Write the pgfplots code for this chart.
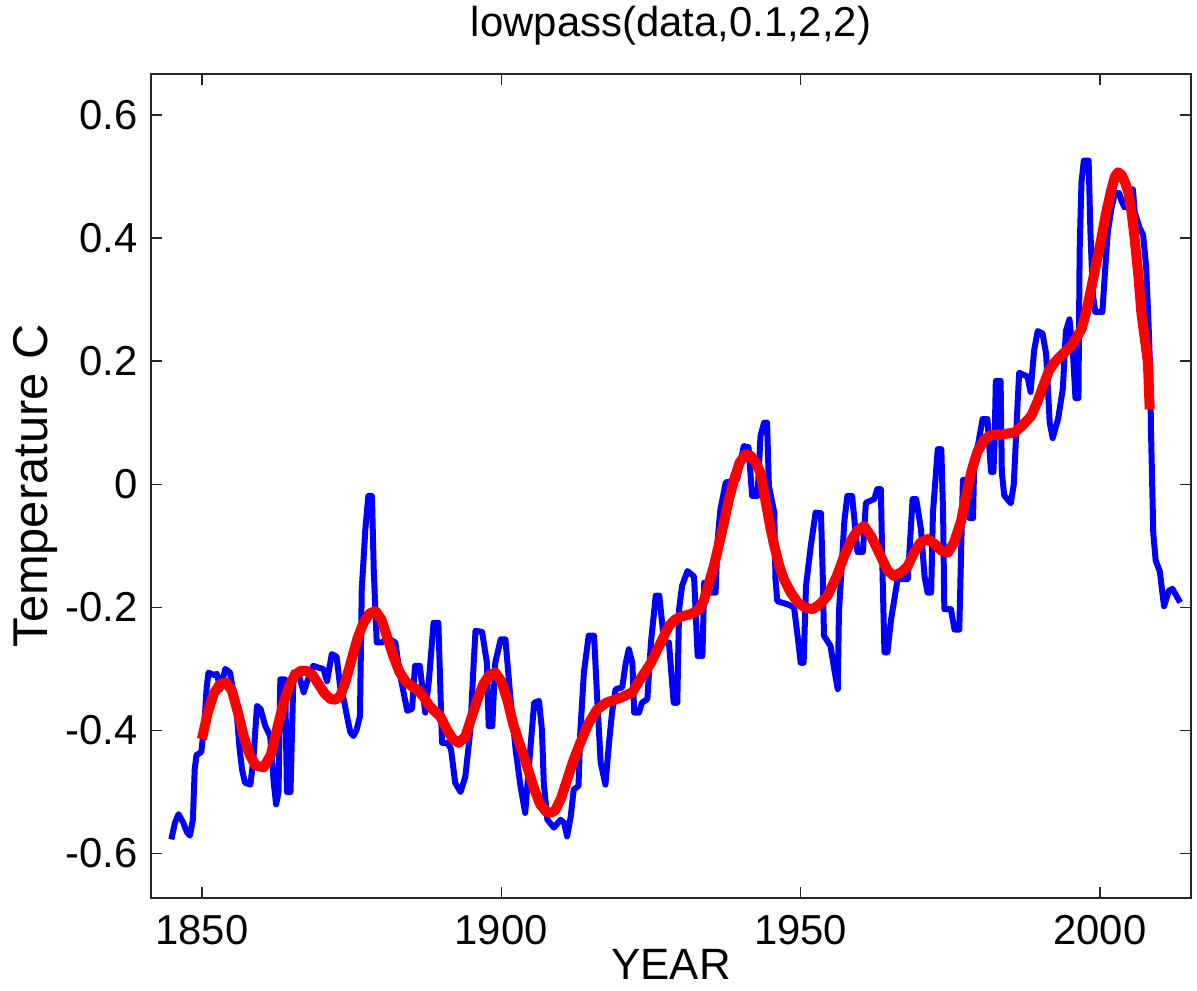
\documentclass[border=0pt]{standalone}
\usepackage{pgfplots}
\pgfplotsset{compat=1.18}
\usepackage{pgfplotstable}
\usepackage{fontspec}
\setmainfont{Liberation Sans}

\pgfplotstableread{
year val
1844.9 -0.577
1845.5 -0.55
1846.1 -0.536
1846.9 -0.55
1847.5 -0.565
1848.0 -0.571
1848.5 -0.545
1848.8 -0.463
1849.1 -0.44
1849.9 -0.435
1850.3 -0.40
1850.5 -0.376
1850.8 -0.33
1851.1 -0.306
1852.0 -0.31
1852.5 -0.308
1853.1 -0.333
1853.9 -0.30
1854.7 -0.306
1855.3 -0.34
1855.8 -0.371
1856.3 -0.43
1856.7 -0.463
1857.2 -0.485
1858.1 -0.488
1858.6 -0.447
1859.2 -0.36
1859.8 -0.365
1860.6 -0.393
1861.4 -0.409
1862.0 -0.485
1862.4 -0.52
1862.8 -0.50
1863.1 -0.317
1863.9 -0.317
1864.2 -0.50
1864.8 -0.50
1865.3 -0.306
1866.1 -0.306
1867.0 -0.338
1867.6 -0.32
1868.6 -0.295
1869.5 -0.298
1870.3 -0.30
1870.9 -0.32
1871.7 -0.276
1872.5 -0.28
1873.1 -0.33
1873.7 -0.35
1874.3 -0.38
1874.8 -0.403
1875.3 -0.409
1875.8 -0.40
1876.4 -0.377
1876.7 -0.171
1877.3 -0.073
1877.8 -0.019
1878.4 -0.019
1878.7 -0.138
1879.2 -0.257
1880.1 -0.257
1881.0 -0.25
1882.3 -0.257
1883.1 -0.31
1884.3 -0.368
1885.1 -0.365
1885.6 -0.295
1886.4 -0.295
1887.3 -0.371
1887.9 -0.32
1888.7 -0.225
1889.5 -0.225
1890.1 -0.42
1891.0 -0.42
1891.6 -0.43
1892.3 -0.485
1893.2 -0.50
1894.0 -0.475
1894.8 -0.403
1895.4 -0.29
1895.7 -0.238
1896.8 -0.24
1897.6 -0.29
1897.9 -0.393
1898.5 -0.393
1899.0 -0.29
1899.9 -0.252
1900.7 -0.252
1901.5 -0.344
1902.4 -0.431
1903.2 -0.49
1904.0 -0.534
1904.9 -0.425
1905.5 -0.355
1906.3 -0.352
1906.8 -0.40
1907.1 -0.485
1907.7 -0.545
1908.8 -0.558
1909.9 -0.545
1910.5 -0.55
1911.0 -0.572
1911.6 -0.54
1912.1 -0.496
1912.9 -0.49
1913.2 -0.403
1913.8 -0.306
1914.6 -0.246
1915.5 -0.246
1916.0 -0.344
1916.6 -0.452
1917.4 -0.488
1918.0 -0.42
1918.5 -0.371
1919.1 -0.333
1920.2 -0.33
1920.8 -0.29
1921.3 -0.268
1921.9 -0.29
1922.2 -0.371
1923.0 -0.371
1923.5 -0.355
1924.4 -0.349
1925.0 -0.257
1925.8 -0.181
1926.4 -0.181
1927.2 -0.257
1928.0 -0.257
1928.8 -0.355
1929.4 -0.355
1929.7 -0.203
1930.2 -0.165
1931.1 -0.141
1932.2 -0.15
1932.8 -0.279
1933.6 -0.279
1933.9 -0.16
1935.0 -0.176
1935.8 -0.176
1936.1 -0.095
1936.6 -0.041
1937.5 0.003
1938.6 0.005
1939.4 0.008
1940.5 0.062
1941.3 0.06
1941.9 -0.019
1942.8 -0.019
1943.3 0.079
1943.9 0.10
1944.4 0.10
1944.7 -0.003
1945.6 -0.046
1945.8 -0.154
1946.1 -0.19
1947.8 -0.195
1948.9 -0.20
1949.7 -0.263
1950.0 -0.29
1950.5 -0.29
1950.9 -0.165
1951.7 -0.10
1952.5 -0.046
1953.4 -0.047
1953.7 -0.15
1953.9 -0.246
1955.0 -0.263
1955.6 -0.30
1956.2 -0.333
1956.4 -0.208
1957.3 -0.06
1957.8 -0.019
1958.6 -0.019
1959.5 -0.11
1960.4 -0.11
1960.9 -0.03
1962.3 -0.024
1962.8 -0.008
1963.4 -0.008
1963.7 -0.154
1964.0 -0.273
1964.5 -0.273
1965.1 -0.22
1966.2 -0.154
1967.9 -0.154
1968.7 -0.024
1969.3 -0.024
1970.1 -0.073
1970.7 -0.15
1971.2 -0.176
1971.8 -0.176
1972.1 -0.046
1972.9 0.057
1973.5 0.057
1973.8 -0.05
1974.0 -0.203
1975.1 -0.203
1975.7 -0.236
1976.5 -0.236
1976.8 -0.111
1977.1 0.007
1977.9 0.007
1978.2 -0.055
1978.8 -0.055
1979.0 0.044
1979.6 0.063
1980.4 0.106
1981.2 0.106
1981.8 0.02
1982.2 0.02
1982.4 0.069
1982.6 0.168
1983.4 0.168
1983.6 0.02
1984.0 -0.018
1985.1 -0.031
1985.6 0.0
1986.3 0.144
1986.5 0.181
1987.9 0.175
1988.4 0.15
1989.0 0.218
1989.6 0.249
1990.4 0.245
1991.0 0.212
1991.6 0.10
1992.1 0.075
1993.0 0.106
1993.8 0.156
1994.3 0.249
1994.9 0.268
1995.5 0.21
1995.9 0.14
1996.4 0.14
1996.6 0.38
1996.9 0.49
1997.3 0.526
1998.1 0.526
1998.4 0.41
1998.8 0.31
1999.2 0.28
2000.4 0.28
2000.8 0.34
2001.3 0.41
2001.9 0.448
2002.5 0.473
2003.2 0.473
2003.6 0.46
2004.1 0.45
2004.8 0.479
2005.5 0.479
2005.8 0.442
2006.6 0.417
2007.2 0.405
2007.7 0.355
2008.1 0.262
2008.4 0.181
2008.5 0.094
2008.7 0.007
2008.9 -0.08
2009.3 -0.124
2010.0 -0.142
2010.3 -0.167
2010.7 -0.198
2011.5 -0.173
2012.1 -0.17
2013.4 -0.192
}\rawdata

\pgfplotstableread{
year val
1850.0 -0.414
1851.0 -0.37
1852.0 -0.34
1853.0 -0.325
1854.0 -0.322
1855.0 -0.335
1856.0 -0.37
1857.0 -0.41
1858.0 -0.44
1859.0 -0.457
1860.3 -0.46
1861.5 -0.44
1862.5 -0.40
1863.5 -0.36
1864.5 -0.33
1865.5 -0.31
1866.5 -0.303
1867.5 -0.303
1868.5 -0.31
1869.5 -0.325
1870.5 -0.34
1871.5 -0.349
1872.3 -0.35
1873.1 -0.344
1874.0 -0.32
1875.0 -0.285
1876.0 -0.25
1877.0 -0.225
1878.0 -0.21
1879.0 -0.206
1880.0 -0.22
1881.0 -0.25
1882.0 -0.28
1883.0 -0.305
1884.0 -0.32
1885.0 -0.328
1885.9 -0.333
1887.0 -0.345
1888.0 -0.36
1889.0 -0.37
1889.8 -0.377
1891.0 -0.40
1892.0 -0.415
1892.9 -0.42
1894.0 -0.41
1895.0 -0.38
1896.0 -0.35
1897.0 -0.325
1898.0 -0.31
1899.0 -0.306
1900.0 -0.32
1901.0 -0.35
1902.0 -0.39
1903.0 -0.42
1904.3 -0.458
1905.5 -0.495
1906.5 -0.52
1907.5 -0.532
1908.2 -0.534
1909.0 -0.53
1910.0 -0.51
1911.0 -0.48
1912.0 -0.45
1913.2 -0.42
1914.5 -0.39
1916.0 -0.366
1917.5 -0.355
1919.0 -0.35
1919.9 -0.347
1921.0 -0.342
1921.9 -0.338
1923.0 -0.32
1924.0 -0.305
1925.0 -0.29
1926.0 -0.27
1927.0 -0.25
1928.0 -0.23
1929.0 -0.22
1930.0 -0.215
1931.6 -0.211
1932.8 -0.205
1933.8 -0.19
1934.7 -0.16
1935.5 -0.133
1936.3 -0.10
1937.2 -0.062
1938.0 -0.025
1938.9 0.008
1939.8 0.035
1940.8 0.049
1941.7 0.046
1942.5 0.035
1943.3 0.019
1944.0 -0.02
1945.0 -0.073
1945.6 -0.10
1946.5 -0.135
1947.2 -0.154
1948.3 -0.175
1949.5 -0.192
1950.7 -0.200
1952.0 -0.203
1953.2 -0.195
1954.5 -0.181
1956.0 -0.15
1957.3 -0.116
1958.5 -0.09
1959.5 -0.075
1960.6 -0.068
1961.8 -0.085
1963.1 -0.111
1964.5 -0.14
1965.6 -0.149
1966.8 -0.143
1967.9 -0.133
1969.0 -0.11
1970.0 -0.095
1971.2 -0.089
1972.5 -0.098
1973.5 -0.108
1974.6 -0.111
1975.6 -0.095
1976.8 -0.06
1977.6 -0.02
1978.5 0.02
1979.5 0.052
1980.7 0.073
1981.8 0.08
1983.5 0.081
1985.7 0.084
1987.0 0.095
1988.5 0.111
1989.6 0.135
1990.7 0.165
1991.5 0.185
1992.4 0.198
1993.8 0.212
1995.2 0.225
1996.0 0.237
1996.9 0.252
1997.7 0.28
1998.5 0.317
1999.4 0.36
2000.2 0.398
2001.0 0.44
2001.9 0.479
2002.5 0.50
2003.0 0.507
2003.6 0.503
2004.2 0.49
2004.7 0.475
2005.3 0.44
2005.8 0.398
2006.4 0.34
2006.9 0.279
2007.5 0.235
2008.0 0.198
2008.3 0.122
}\lowpassdata

\begin{document}
\begin{tikzpicture}
\useasboundingbox (0,0) rectangle (1197bp,991bp);
\begin{axis}[
  at={(151bp,93bp)}, anchor=south west,
  scale only axis, width=1040bp, height=824bp,
  xmin=1841.5, xmax=2015.2, ymin=-0.6722, ymax=0.6666,
  xtick={1850,1900,1950,2000}, xticklabels={1850,1900,1950,2000},
  ytick={-0.6,-0.4,-0.2,0,0.2,0.4,0.6},
  yticklabels={-0.6,-0.4,-0.2,0,0.2,0.4,0.6},
  tick align=inside, major tick length=11bp,
  every tick/.style={black!85, line width=1.5bp},
  axis line style={black!85, line width=1.5bp},
  tick label style={font=\fontsize{42}{48}\selectfont, inner sep=0pt},
  xticklabel style={anchor=north, yshift=-17bp},
  yticklabel style={anchor=east, xshift=-13bp},
  title={lowpass(data,0.1,2,2)},
  title style={font=\fontsize{42}{48}\selectfont, at={(axis description cs:0.5,1.0388)}, anchor=base, inner sep=0pt},
  xlabel={YEAR},
  xlabel style={font=\fontsize{44}{50}\selectfont, at={(axis description cs:0.5,-0.0995)}, anchor=base, inner sep=0pt},
  ylabel={Temperature C},
  ylabel style={font=\fontsize{49}{55}\selectfont, at={(axis description cs:-0.1115,0.5)}, anchor=center, inner sep=0pt},
]
\addplot[blue, line width=6bp, line join=round] table[x=year, y=val] {\rawdata};
\addplot[red, line width=10bp, line join=round] table[x=year, y=val] {\lowpassdata};
\end{axis}
\end{tikzpicture}
\end{document}
